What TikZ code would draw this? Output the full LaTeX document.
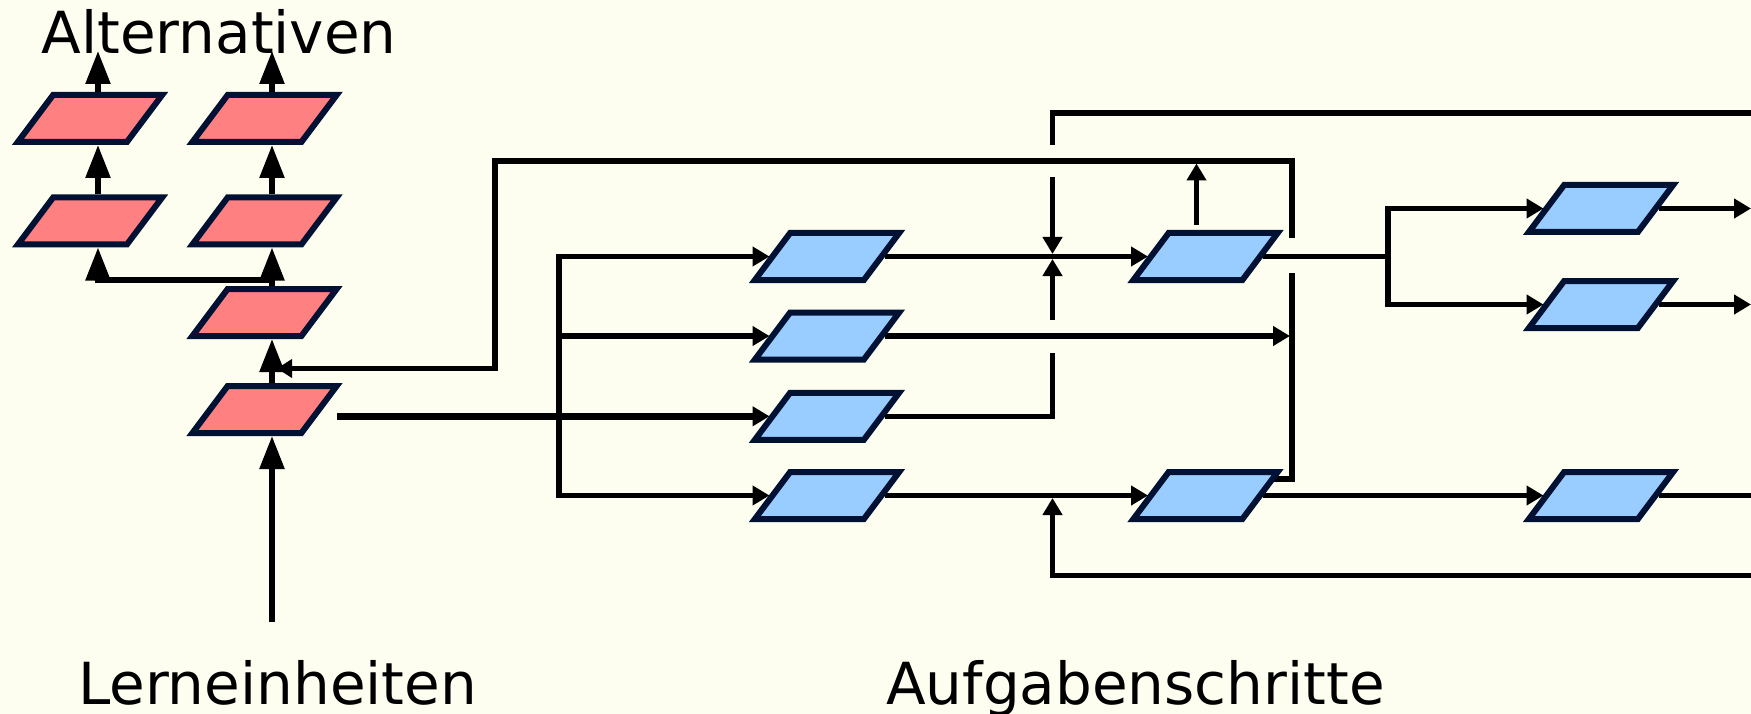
\documentclass[tikz,border=0pt]{standalone}
\usepackage{fontspec}
\setmainfont{DejaVu Sans}
\usetikzlibrary{arrows.meta,calc,backgrounds}
\definecolor{bgc}{RGB}{253,254,240}
\definecolor{redf}{RGB}{255,128,128}
\definecolor{bluef}{RGB}{153,204,255}
\definecolor{bord}{RGB}{0,17,51}
\tikzset{
  para/.style={draw=bord, line width=6pt, minimum width=109pt, minimum height=47pt,
    inner sep=0pt, xslant=0.75, fill=#1},
  rp/.style={para=redf},
  bp/.style={para=bluef},
  conn/.style={line width=5.5pt, draw=black},
  big/.style={conn, -{Triangle[length=33pt,width=24pt]}},
  sm/.style={conn, -{Triangle[length=17pt,width=19pt]}},
  smboth/.style={conn, {Triangle[length=17pt,width=19pt]}-{Triangle[length=17pt,width=19pt]}},
  lbl/.style={anchor=base west, inner sep=0pt, font=\fontsize{58}{69}\selectfont},
}
\begin{document}
\begin{tikzpicture}[x=1pt,y=-1pt]
\useasboundingbox (0,0) rectangle (1751,714);
% red nodes (Lerneinheiten / Alternativen)
\node[rp] (r11) at (90,118.5) {};
\node[rp] (r21) at (264.5,118.5) {};
\node[rp] (r12) at (90,221) {};
\node[rp] (r22) at (264.5,221) {};
\node[rp] (r3) at (264.5,312.5) {};
\node[rp] (r4) at (264.5,409.5) {};
% blue nodes (Aufgabenschritte)
\node[bp] (a1) at (827,256.5) {};
\node[bp] (a2) at (827,336) {};
\node[bp] (a3) at (827,416.3) {};
\node[bp] (a4) at (827,495.5) {};
\node[bp] (b1) at (1205.5,256.5) {};
\node[bp] (b4) at (1205.5,495.5) {};
\node[bp] (c1) at (1601,208.5) {};
\node[bp] (c2) at (1601,304.5) {};
\node[bp] (c4) at (1601,495.5) {};
% labels
\node[lbl] (alt) at (41.5,53.5) {Alternativen};
\node[lbl] (lern) at (78,704) {Lerneinheiten};
\node[lbl] (aufg) at (886,704) {Aufgabenschritte};
% coordinates
\coordinate (cx1) at (98,0);
\coordinate (cx2) at (272,0);
\coordinate (top1) at (98,51);
\coordinate (top2) at (272,51);
\coordinate (split) at (272,280);
\coordinate (src) at (272,622);
\coordinate (la) at (277,368.5);
\coordinate (lp) at (495,368.5);
\coordinate (lq) at (495,161);
\coordinate (lr) at (1292,161);
\coordinate (ls) at (1292,238);
\coordinate (lt) at (1292,273);
\coordinate (lu) at (1292,479);
\coordinate (lv) at (1274,479);
\coordinate (ja) at (1751,113);
\coordinate (jb) at (1052.5,113);
\coordinate (jc) at (1052.5,145);
\coordinate (jd) at (1052.5,177);
\coordinate (je) at (1052.5,254);
\coordinate (jf) at (1052.5,416.3);
\coordinate (jg) at (1052.5,353);
\coordinate (jh) at (1052.5,320);
\coordinate (ji) at (1052.5,259);
\coordinate (bl1) at (1751,575.5);
\coordinate (bl2) at (1052.5,575.5);
\coordinate (bl3) at (1052.5,498);
\coordinate (ua) at (1196.5,225);
\coordinate (ub) at (1196.5,163.5);
\coordinate (bus4) at (559,495.5);
\coordinate (bus2) at (559,336);
\coordinate (br) at (1388,256.5);
\coordinate (brb) at (1388,304.5);
\coordinate (m2) at (1290,336);
\coordinate (e1) at (1751,208.5);
\coordinate (e2) at (1751,304.5);
\coordinate (e4) at (1751,495.5);
\begin{scope}[on background layer]
\fill[bgc] (0,0) rectangle (1751,714);
% red column
\draw[big] (r11.north -| cx1) -- (top1);
\draw[big] (r21.north -| cx2) -- (top2);
\draw[big] (r12.north -| cx1) -- (r11.south -| cx1);
\draw[big] (r22.north -| cx2) -- (r21.south -| cx2);
\draw[big] (r3.north -| cx2) -- (r22.south -| cx2);
\draw[big] (split) -| (r12.south -| cx1);
\draw[big] (r4.north -| cx2) -- (r3.south -| cx2);
\draw[big] (src) -- (r4.south -| cx2);
% big loop back to Lerneinheiten
\draw[conn] (lv) -- (lu) -- (lt);
\draw[conn, -{Triangle[length=15pt,width=18pt]}] (ls) -- (lr) -- (lq) -- (lp) -- (la);
% into the task steps
\draw[sm, line width=7pt] ([xshift=15pt]r4.east |- a3.west) -- (a3.west);
\draw[smboth] (a1.west) -| (bus4) -- (a4.west);
\draw[sm] (bus2) -- (a2.west);
% jump lines
\draw[conn] (ja) -- (jb) -- (jc);
\draw[sm] (jd) -- (je);
\draw[conn] (a3.east) -- (jf) -- (jg);
\draw[sm] (jh) -- (ji);
\draw[sm] (bl1) -- (bl2) -- (bl3);
\draw[sm] (ua) -- (ub);
% rows
\draw[sm] (a1.east) -- (b1.west);
\draw[conn] (b1.east) -- (br);
\draw[smboth] (c1.west) -| (brb) -- (c2.west);
\draw[sm] (c1.east) -- (e1);
\draw[sm] (c2.east) -- (e2);
\draw[sm] (a2.east) -- (m2);
\draw[sm] (a4.east) -- (b4.west);
\draw[sm] (b4.east) -- (c4.west);
\draw[conn] (c4.east) -- (e4);
\end{scope}
\end{tikzpicture}
\end{document}
